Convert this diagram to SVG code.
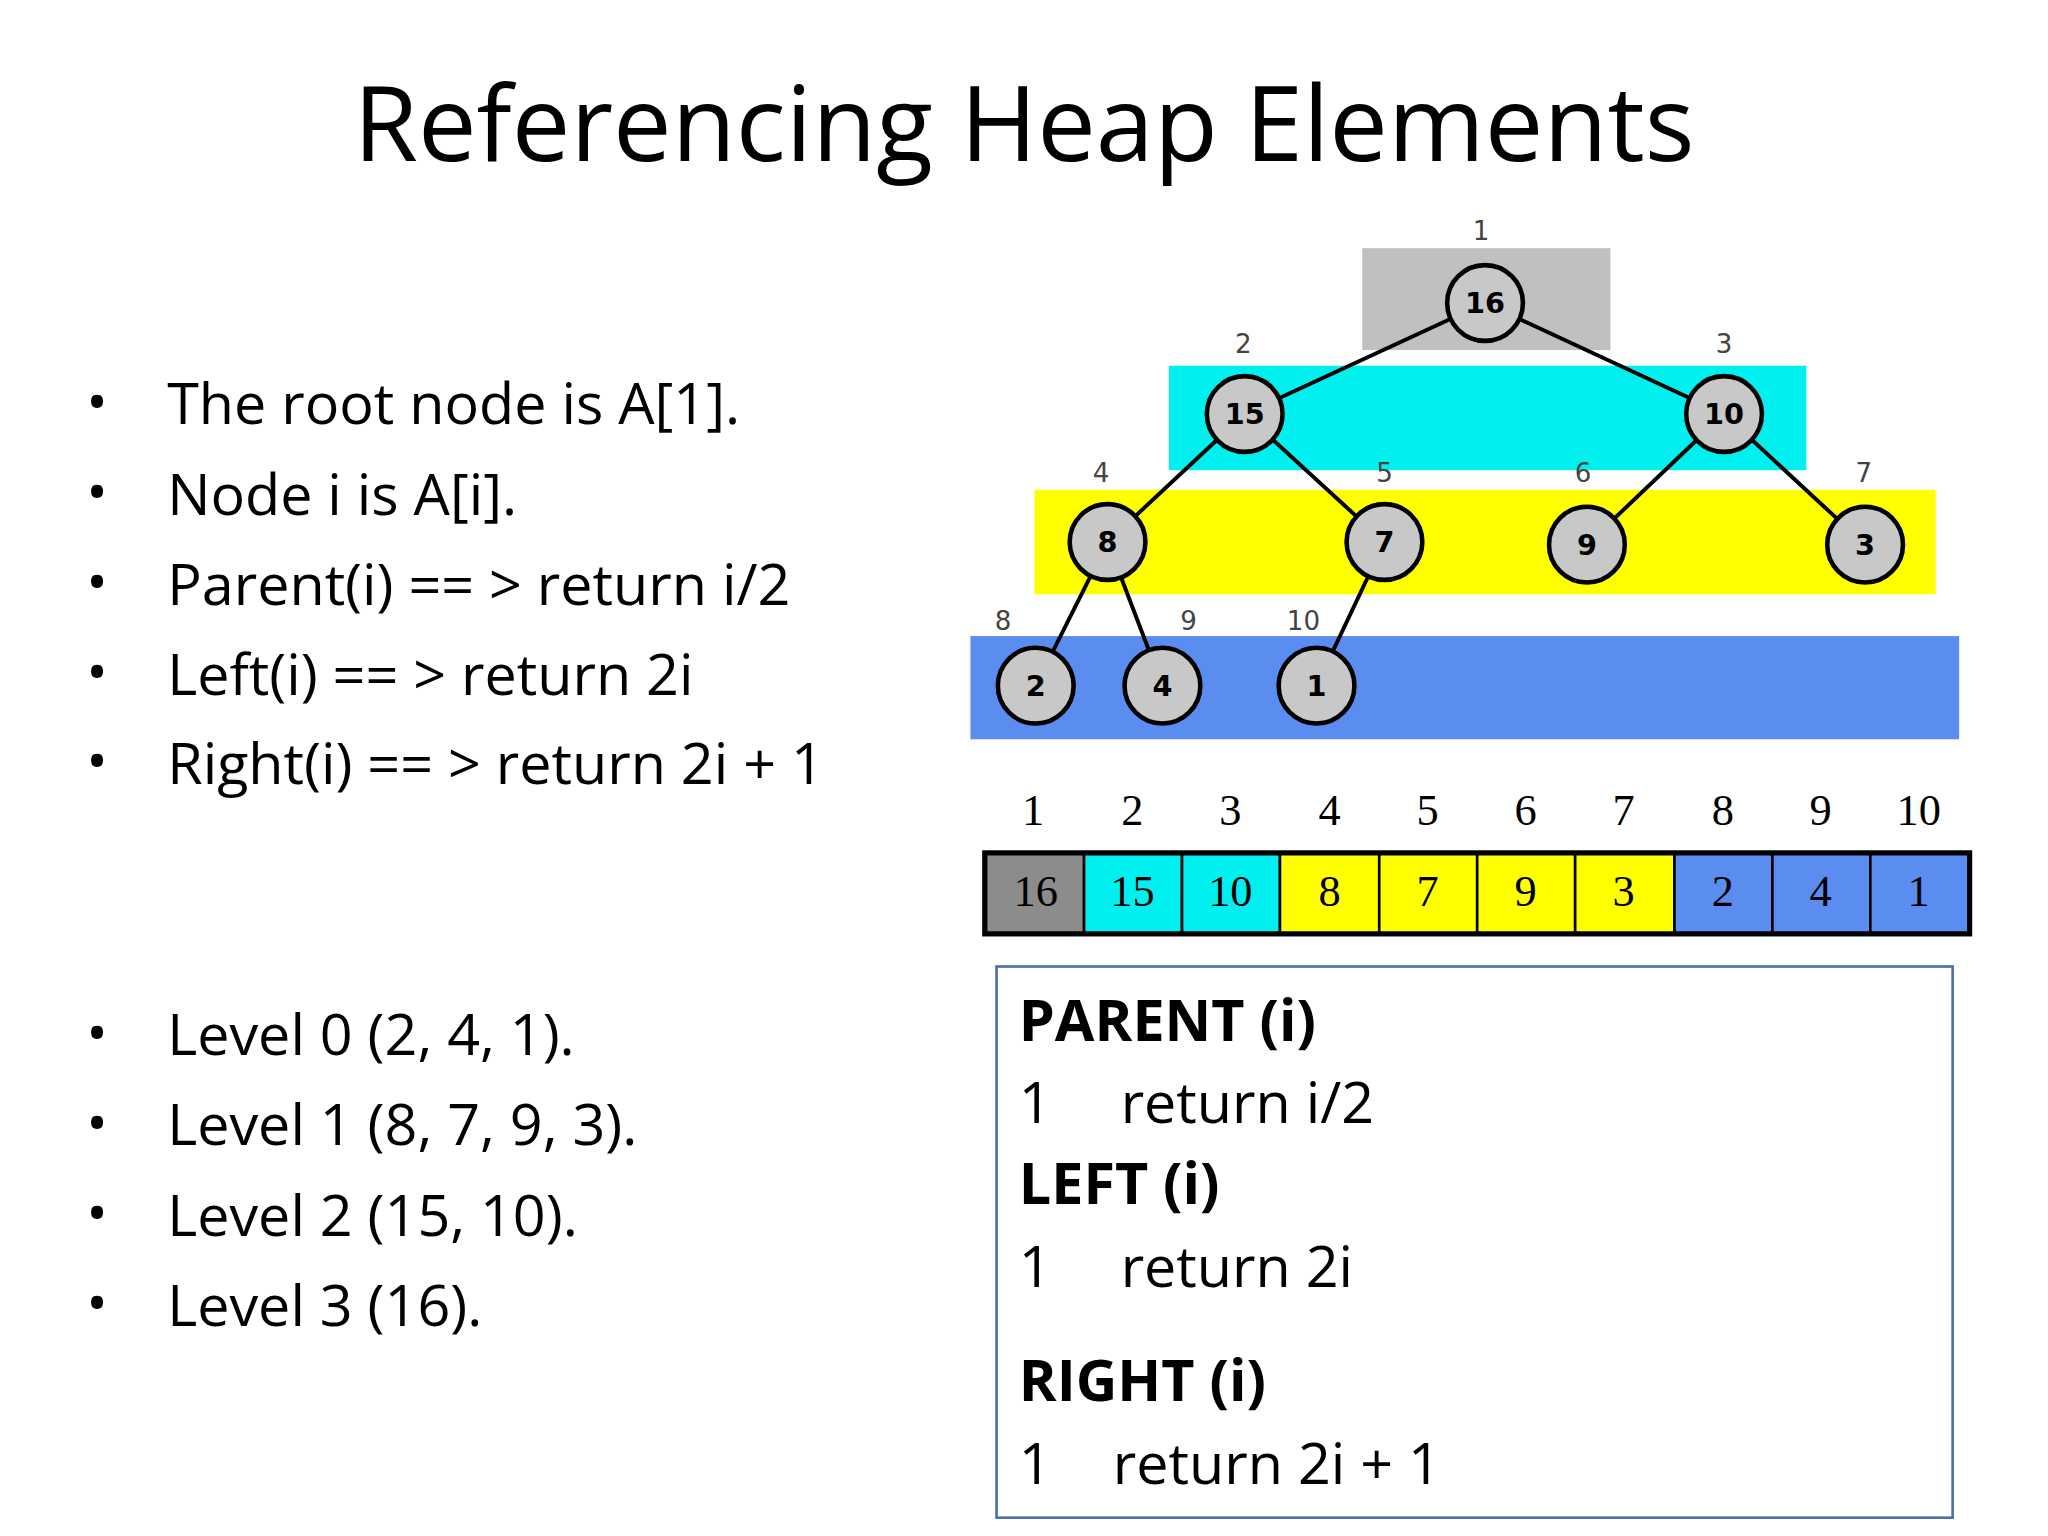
<svg xmlns="http://www.w3.org/2000/svg" width="2048" height="1536" viewBox="0 0 2048 1536">
<style>
.t{font-family:"Open Sans","Liberation Sans",sans-serif;fill:#000}
.b{font-size:44px}
.n{fill:#c8c8c8;stroke:#000;stroke-width:3.5}
.nl{font-family:"DejaVu Sans",sans-serif;font-size:22px;font-weight:bold;text-anchor:middle}
.il{font-family:"DejaVu Sans",sans-serif;font-size:20px;fill:#444;text-anchor:middle}
.an{font-family:"Liberation Serif",serif;font-size:34px;text-anchor:middle}
.cell{stroke:#000;stroke-width:2}
.e{stroke:#000;stroke-width:3;fill:none}
</style>
<rect width="2048" height="1536" fill="#fff"/>
<g transform="scale(1.3061)">
<text class="t" x="784" y="123" font-size="80" text-anchor="middle">Referencing Heap Elements</text>
<g id="bullets" class="t b">
<text x="66" y="323">•</text><text x="128" y="325">The root node is A[1].</text>
<text x="66" y="392">•</text><text x="128" y="394">Node i is A[i].</text>
<text x="66" y="461">•</text><text x="128" y="463">Parent(i) == &gt;  return i/2</text>
<text x="66" y="530">•</text><text x="128" y="532">Left(i) == &gt; return 2i</text>
<text x="66" y="598">•</text><text x="128" y="600">Right(i) == &gt; return 2i + 1</text>
<text x="66" y="806">•</text><text x="128" y="808">Level 0 (2, 4, 1).</text>
<text x="66" y="875">•</text><text x="128" y="877">Level 1 (8, 7, 9, 3).</text>
<text x="66" y="944">•</text><text x="128" y="946">Level 2 (15, 10).</text>
<text x="66" y="1013">•</text><text x="128" y="1015">Level 3 (16).</text>
</g>
<g id="bands">
<rect x="1043" y="190" width="190" height="78" fill="#c0c0c0"/>
<rect x="895" y="280" width="488" height="80" fill="#00f0f0"/>
<rect x="792" y="375" width="690" height="80" fill="#ffff00"/>
<rect x="743" y="487" width="757" height="79" fill="#5b8cf0"/>
</g>
<g id="connectors" class="e">
<line x1="1137" y1="232" x2="953" y2="317"/>
<line x1="1137" y1="232" x2="1320" y2="317"/>
<line x1="953" y1="317" x2="848" y2="415"/>
<line x1="953" y1="317" x2="1060" y2="415"/>
<line x1="1320" y1="317" x2="1215" y2="417"/>
<line x1="1320" y1="317" x2="1428" y2="417"/>
<line x1="848" y1="415" x2="793" y2="525"/>
<line x1="848" y1="415" x2="890" y2="525"/>
<line x1="1060" y1="415" x2="1008" y2="525"/>
</g>
<g id="n16"><circle class="n" cx="1137" cy="232" r="29"/><text class="nl" x="1137" y="240">16</text></g>
<g id="n15"><circle class="n" cx="953" cy="317" r="29"/><text class="nl" x="953" y="325">15</text></g>
<g id="n10"><circle class="n" cx="1320" cy="317" r="29"/><text class="nl" x="1320" y="325">10</text></g>
<g id="n8"><circle class="n" cx="848" cy="415" r="29"/><text class="nl" x="848" y="423">8</text></g>
<g id="n7"><circle class="n" cx="1060" cy="415" r="29"/><text class="nl" x="1060" y="423">7</text></g>
<g id="n9"><circle class="n" cx="1215" cy="417" r="29"/><text class="nl" x="1215" y="425">9</text></g>
<g id="n3"><circle class="n" cx="1428" cy="417" r="29"/><text class="nl" x="1428" y="425">3</text></g>
<g id="n2"><circle class="n" cx="793" cy="525" r="29"/><text class="nl" x="793" y="533">2</text></g>
<g id="n4"><circle class="n" cx="890" cy="525" r="29"/><text class="nl" x="890" y="533">4</text></g>
<g id="n1"><circle class="n" cx="1008" cy="525" r="29"/><text class="nl" x="1008" y="533">1</text></g>
<g id="indices">
<text class="il" x="1134" y="184">1</text><text class="il" x="952" y="270">2</text><text class="il" x="1320" y="270">3</text>
<text class="il" x="843" y="369">4</text><text class="il" x="1060" y="369">5</text><text class="il" x="1212" y="369">6</text><text class="il" x="1427" y="369">7</text>
<text class="il" x="768" y="482">8</text><text class="il" x="910" y="482">9</text><text class="il" x="998" y="482">10</text>
</g>
<g id="array">
<rect class="cell" x="754" y="653" width="76" height="62" fill="#8c8c8c"/>
<rect class="cell" x="830" y="653" width="75" height="62" fill="#00f0f0"/>
<rect class="cell" x="905" y="653" width="75" height="62" fill="#00f0f0"/>
<rect class="cell" x="980" y="653" width="76" height="62" fill="#ffff00"/>
<rect class="cell" x="1056" y="653" width="75" height="62" fill="#ffff00"/>
<rect class="cell" x="1131" y="653" width="75" height="62" fill="#ffff00"/>
<rect class="cell" x="1206" y="653" width="76" height="62" fill="#ffff00"/>
<rect class="cell" x="1282" y="653" width="75" height="62" fill="#5b8cf0"/>
<rect class="cell" x="1357" y="653" width="75" height="62" fill="#5b8cf0"/>
<rect class="cell" x="1432" y="653" width="76" height="62" fill="#5b8cf0"/>
<rect x="754" y="653" width="754" height="62" fill="none" stroke="#000" stroke-width="4"/>
<g class="an">
<text x="791" y="632">1</text><text x="867" y="632">2</text><text x="942" y="632">3</text><text x="1018" y="632">4</text><text x="1093" y="632">5</text><text x="1168" y="632">6</text><text x="1243" y="632">7</text><text x="1319" y="632">8</text><text x="1394" y="632">9</text><text x="1469" y="632">10</text>
<text x="793" y="694">16</text><text x="867" y="694">15</text><text x="942" y="694">10</text><text x="1018" y="694">8</text><text x="1093" y="694">7</text><text x="1168" y="694">9</text><text x="1243" y="694">3</text><text x="1319" y="694">2</text><text x="1394" y="694">4</text><text x="1469" y="694">1</text>
</g>
</g>
<g id="code" class="t b">
<rect x="763" y="740" width="732" height="422" fill="none" stroke="#4a6fa5" stroke-width="2"/>
<text x="780" y="797" font-weight="bold">PARENT (i)</text>
<text x="780" y="860">1</text><text x="858" y="860">return i/2</text>
<text x="780" y="922" font-weight="bold">LEFT (i)</text>
<text x="780" y="985">1</text><text x="858" y="985">return 2i</text>
<text x="780" y="1073" font-weight="bold">RIGHT (i)</text>
<text x="780" y="1136">1</text><text x="852" y="1136">return 2i + 1</text>
</g>
</g>
</svg>
